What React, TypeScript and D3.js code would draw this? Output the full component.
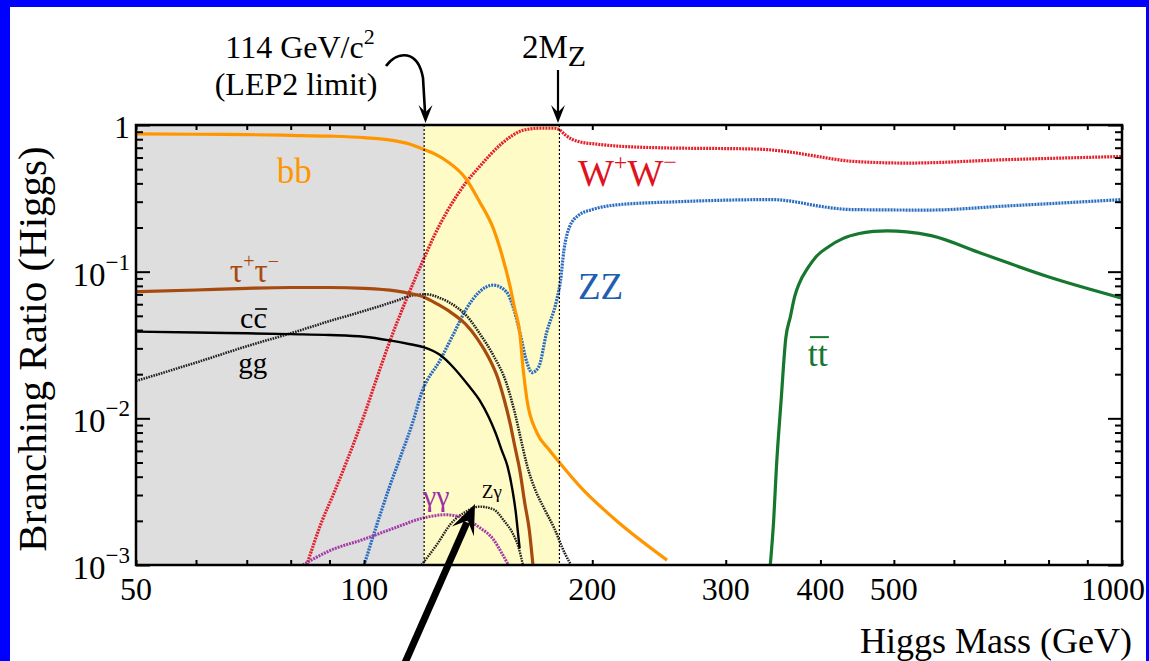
import React, { useEffect, useRef } from 'react';
import * as d3 from 'd3';

type Pt = [number, number];

// Higgs mass (GeV) vs branching ratio
const bb: Pt[] = [[50,0.87],[60,0.865],[70,0.86],[80,0.85],[90,0.84],[100,0.82],[110,0.78],[115,0.74],[120,0.68],[125,0.62],[129,0.56],[136,0.435],[142,0.3],[148,0.198],[152,0.13],[156,0.077],[158,0.056],[160.5,0.038],[162,0.0225],[164,0.0134],[169,0.008],[175,0.0062],[181,0.005],[193,0.0034],[213,0.0021],[251,0.00108]];
const tautau: Pt[] = [[50,0.073],[60,0.075],[70,0.077],[80,0.078],[90,0.078],[100,0.077],[110,0.074],[115,0.071],[120,0.067],[125,0.06],[130,0.053],[136,0.044],[141,0.035],[146,0.026],[150,0.019],[153,0.0135],[156,0.009],[158,0.0065],[160.5,0.0044],[163,0.0026],[165,0.0018],[167,0.001]];
const cc: Pt[] = [[50,0.039],[60,0.0385],[70,0.038],[80,0.0375],[90,0.037],[100,0.036],[108,0.034],[115,0.032],[120,0.0305],[126,0.027],[131,0.0224],[137,0.017],[142,0.0133],[146,0.0102],[149,0.008],[152,0.006],[154.6,0.0047],[157,0.0032],[158.5,0.0023],[159.6,0.00165],[160.4,0.0013]];
const gg: Pt[] = [[50,0.018],[60,0.024],[70,0.031],[80,0.038],[90,0.046],[100,0.054],[110,0.063],[116,0.069],[121,0.07],[126,0.066],[132,0.058],[137,0.049],[142,0.038],[148,0.027],[154,0.0175],[158,0.011],[161,0.0072],[164,0.0048],[168,0.0033],[173,0.0024],[178,0.0018],[184,0.0012],[187.5,0.001]];
const ww: Pt[] = [[84,0.001],[88,0.002],[91,0.003],[95,0.0052],[100,0.0105],[104,0.019],[108,0.033],[113,0.06],[117,0.092],[120.5,0.13],[124,0.18],[128.6,0.256],[136.5,0.41],[142,0.52],[146.6,0.625],[152,0.75],[157,0.85],[162,0.92],[170,0.95],[178,0.95],[181,0.93],[184,0.86],[188,0.8],[192,0.77],[203,0.74],[243,0.7],[330,0.685],[360,0.66],[389,0.62],[442,0.565],[521,0.55],[702,0.58],[1000,0.61]];
const zz: Pt[] = [[100,0.001],[104,0.0019],[108,0.0034],[112,0.0057],[116,0.0095],[119,0.0148],[126,0.025],[131,0.037],[136.5,0.056],[142,0.073],[148,0.081],[154,0.073],[158,0.053],[160.6,0.038],[164,0.024],[166.5,0.0205],[170,0.0225],[174,0.038],[179.5,0.064],[181.5,0.085],[183.5,0.14],[186.5,0.2],[192,0.243],[200,0.265],[215,0.285],[260,0.3],[345,0.31],[370,0.3],[390,0.285],[442,0.265],[555,0.263],[700,0.28],[1000,0.31]];
const tt: Pt[] = [[343.5,0.001],[347,0.002],[350,0.0047],[355,0.0133],[360,0.035],[365,0.049],[370,0.068],[375,0.083],[385,0.106],[395,0.127],[410,0.148],[428,0.168],[450,0.182],[470,0.188],[490,0.19],[520,0.187],[560,0.176],[653,0.133],[801,0.092],[1000,0.066]];
const gamgam: Pt[] = [[83,0.001],[90,0.00125],[100,0.0015],[110,0.0018],[120,0.0021],[128,0.0022],[135,0.0021],[142,0.0018],[148,0.0015],[152,0.0012],[155,0.001]];
const zgam: Pt[] = [[119,0.001],[125,0.0014],[130,0.0019],[136,0.0023],[142,0.0025],[148,0.0024],[153,0.002],[157,0.00165],[160,0.0013],[162,0.001]];

const xTicks = [50, 60, 70, 80, 90, 100, 200, 300, 400, 500, 600, 700, 800, 900, 1000];
const xLabels = [50, 100, 200, 300, 400, 500, 1000];
const yMajor = [0.001, 0.01, 0.1, 1];
const yLabels = ['10|−3', '10|−2', '10|−1', '1'];
const lepLimit = 120;
const twoMz = 181;

const FONT = '"Liberation Serif", "Times New Roman", serif';

export default function App() {
  const svgRef = useRef<SVGSVGElement>(null);

  useEffect(() => {
    if (!svgRef.current) return;
    const W = 1149, H = 661;
    const L = 136, R = 1122, T = 125, B = 565;

    const root = d3.select(svgRef.current);
    root.selectAll('*').remove();
    root.attr('width', W).attr('height', H);

    const x = d3.scaleLog().domain([50, 1000]).range([L, R]);
    const y = d3.scaleLog().domain([0.001, 1]).range([B, T]);

    root.append('rect').attr('width', W).attr('height', H).attr('fill', '#fff');

    const defs = root.append('defs');
    defs.append('clipPath').attr('id', 'plotclip')
      .append('rect').attr('x', L).attr('y', T).attr('width', R - L).attr('height', B - T);

    // shaded mass windows
    root.append('rect').attr('x', L).attr('y', T).attr('width', x(lepLimit) - L).attr('height', B - T).attr('fill', '#dedede');
    root.append('rect').attr('x', x(lepLimit)).attr('y', T).attr('width', x(twoMz) - x(lepLimit)).attr('height', B - T).attr('fill', '#fffbc6');

    const line = d3.line<Pt>().x(d => x(d[0])).y(d => y(d[1])).curve(d3.curveMonotoneX);
    const curves = [
      { data: ww, color: '#e3202b', w: 3.2, dash: '2,1' },
      { data: zz, color: '#2a6cc0', w: 3.2, dash: '2,1' },
      { data: gg, color: '#222', w: 2.6, dash: '1.6,1' },
      { data: zgam, color: '#222', w: 2.4, dash: '1.6,1' },
      { data: gamgam, color: '#a23ba8', w: 3, dash: '2,1' },
      { data: cc, color: '#000', w: 2.4, dash: null },
      { data: tautau, color: '#a64a10', w: 3.2, dash: null },
      { data: bb, color: '#ff9600', w: 3.2, dash: null },
      { data: tt, color: '#16772f', w: 3.2, dash: null },
    ];
    const g = root.append('g').attr('clip-path', 'url(#plotclip)');
    curves.forEach(c => {
      g.append('path').datum(c.data).attr('d', line)
        .attr('fill', 'none').attr('stroke', c.color).attr('stroke-width', c.w)
        .attr('stroke-dasharray', c.dash);
    });

    // dotted window edges
    [lepLimit, twoMz].forEach(m => {
      root.append('line').attr('x1', x(m)).attr('x2', x(m)).attr('y1', T).attr('y2', B)
        .attr('stroke', '#000').attr('stroke-width', 1.2).attr('stroke-dasharray', '2,2');
    });

    // frame + ticks (inside on all sides)
    const minorY: number[] = [];
    [0.001, 0.01, 0.1].forEach(d => { for (let k = 2; k <= 9; k++) minorY.push(d * k); });
    const styleAxis = (sel: any) => {
      sel.select('.domain').remove();
      sel.selectAll('line').attr('stroke', '#000').attr('stroke-width', 2);
      sel.selectAll('text').remove();
    };
    root.append('g').attr('transform', `translate(0,${B})`).call(d3.axisBottom(x).tickValues(xTicks).tickSize(-5)).call(styleAxis);
    root.append('g').attr('transform', `translate(0,${T})`).call(d3.axisTop(x).tickValues(xTicks).tickSize(-5)).call(styleAxis);
    root.append('g').attr('transform', `translate(${L},0)`).call(d3.axisLeft(y).tickValues(yMajor).tickSize(-14)).call(styleAxis);
    root.append('g').attr('transform', `translate(${L},0)`).call(d3.axisLeft(y).tickValues(minorY).tickSize(-7)).call(styleAxis);
    root.append('g').attr('transform', `translate(${R},0)`).call(d3.axisRight(y).tickValues(yMajor).tickSize(-14)).call(styleAxis);
    root.append('g').attr('transform', `translate(${R},0)`).call(d3.axisRight(y).tickValues(minorY).tickSize(-7)).call(styleAxis);
    root.append('rect').attr('x', L).attr('y', T).attr('width', R - L).attr('height', B - T)
      .attr('fill', 'none').attr('stroke', '#000').attr('stroke-width', 2.5);

    const txt = (px: number, py: number, s: string, size: number, color = '#000', anchor = 'start') =>
      root.append('text').attr('x', px).attr('y', py).attr('font-family', FONT).attr('font-size', size)
        .attr('fill', color).attr('text-anchor', anchor).text(s);

    // tick labels (last one sits against the slide border, so it is end-anchored)
    xLabels.forEach((v, i) => {
      const last = i === xLabels.length - 1;
      txt(last ? 1145 : x(v), 600, String(v), 32, '#000', last ? 'end' : 'middle');
    });
    yMajor.forEach((v, i) => {
      const [base, exp] = yLabels[i].split('|');
      if (!exp) { txt(130, y(v) + 13, base, 32, '#000', 'end'); return; }
      const t = root.append('text').attr('x', 130).attr('y', y(v) + 14).attr('font-family', FONT)
        .attr('font-size', 33).attr('text-anchor', 'end');
      t.append('tspan').text(base);
      t.append('tspan').attr('font-size', 23).attr('dy', -16).text(exp);
    });

    // axis titles
    txt(1132, 653, 'Higgs Mass (GeV)', 36, '#000', 'end');
    root.append('text').attr('transform', 'translate(46,349) rotate(-90)').attr('font-family', FONT)
      .attr('font-size', 41).attr('text-anchor', 'middle').text('Branching Ratio (Higgs)');

    // curve labels
    txt(x(76.7), y(0.402), 'bb', 35, '#ff9600');
    const tl = root.append('text').attr('x', x(66.5)).attr('y', y(0.085)).attr('font-family', FONT).attr('font-size', 33).attr('fill', '#a64a10');
    tl.append('tspan').text('τ');
    tl.append('tspan').attr('font-size', 20).attr('dy', -14).text('+');
    tl.append('tspan').attr('font-size', 33).attr('dy', 14).text('τ');
    tl.append('tspan').attr('font-size', 20).attr('dy', -14).text('−');
    const ccx = x(68.6), ccy = y(0.0413);
    txt(ccx, ccy, 'cc', 30);
    root.append('line').attr('x1', ccx + 15).attr('x2', ccx + 27).attr('y1', ccy - 19).attr('y2', ccy - 19).attr('stroke', '#000').attr('stroke-width', 1.6);
    txt(x(68.2), y(0.0204), 'gg', 29);
    const wl = root.append('text').attr('x', x(191.5)).attr('y', y(0.384)).attr('font-family', FONT).attr('font-size', 38).attr('fill', '#e0121e');
    wl.append('tspan').text('W');
    wl.append('tspan').attr('font-size', 24).attr('dy', -16).text('+');
    wl.append('tspan').attr('font-size', 38).attr('dy', 16).text('W');
    wl.append('tspan').attr('font-size', 24).attr('dy', -16).text('−');
    txt(x(191.5), y(0.0651), 'ZZ', 37, '#1f5fb0');
    const tx = x(385), ty = y(0.0227);
    txt(tx, ty, 'tt', 36, '#16772f');
    root.append('line').attr('x1', tx + 2).attr('x2', tx + 21).attr('y1', ty - 29).attr('y2', ty - 29).attr('stroke', '#16772f').attr('stroke-width', 2);
    txt(x(119.6), y(0.00253), 'γγ', 30, '#9b30a3');
    txt(x(143), y(0.00286), 'Zγ', 19);

    // annotations
    txt(300, 58, '114 GeV/c', 32, '#000', 'middle').append('tspan').attr('font-size', 22).attr('dy', -14).text('2');
    txt(296, 95, '(LEP2 limit)', 32, '#000', 'middle');
    const mz = txt(522, 58, '2M', 33);
    mz.append('tspan').attr('font-size', 30).attr('dy', 8).text('Z');

    const head = (tipX: number, tipY: number, dx: number, dy: number, len: number, half: number) => {
      const px = -dy, py = dx;
      const bx = tipX - dx * len, by = tipY - dy * len;
      const nx = tipX - dx * len * 0.6, ny = tipY - dy * len * 0.6;
      root.append('path')
        .attr('d', `M${tipX},${tipY} L${bx + px * half},${by + py * half} L${nx},${ny} L${bx - px * half},${by - py * half} Z`)
        .attr('fill', '#000');
    };
    root.append('path').attr('d', 'M386,66 C398,50 418,50 423,78 L425,112')
      .attr('fill', 'none').attr('stroke', '#000').attr('stroke-width', 2.6);
    head(425.5, 123, 0, 1, 18, 7);
    root.append('line').attr('x1', 558).attr('x2', 558).attr('y1', 70).attr('y2', 112).attr('stroke', '#000').attr('stroke-width', 2.2);
    head(558, 123, 0, 1, 18, 7);

    // big pointer arrow
    const ax0 = 404, ay0 = 665, ax1 = 475, ay1 = 504;
    const len = Math.hypot(ax1 - ax0, ay1 - ay0);
    const ux = (ax1 - ax0) / len, uy = (ay1 - ay0) / len;
    root.append('line').attr('x1', ax0).attr('y1', ay0).attr('x2', ax1 - ux * 20).attr('y2', ay1 - uy * 20)
      .attr('stroke', '#000').attr('stroke-width', 7);
    head(ax1, ay1, ux, uy, 30, 12);

    // frame of the slide
    root.append('rect').attr('x', 0).attr('y', 0).attr('width', W).attr('height', 7).attr('fill', '#0000ff');
    root.append('rect').attr('x', 0).attr('y', 0).attr('width', 10).attr('height', H).attr('fill', '#0000ff');
    root.append('rect').attr('x', 1146).attr('y', 0).attr('width', 3).attr('height', H).attr('fill', '#0000ff');
  }, []);

  return <svg ref={svgRef} style={{ position: 'absolute', left: 0, top: 0, display: 'block' }}></svg>;
}
